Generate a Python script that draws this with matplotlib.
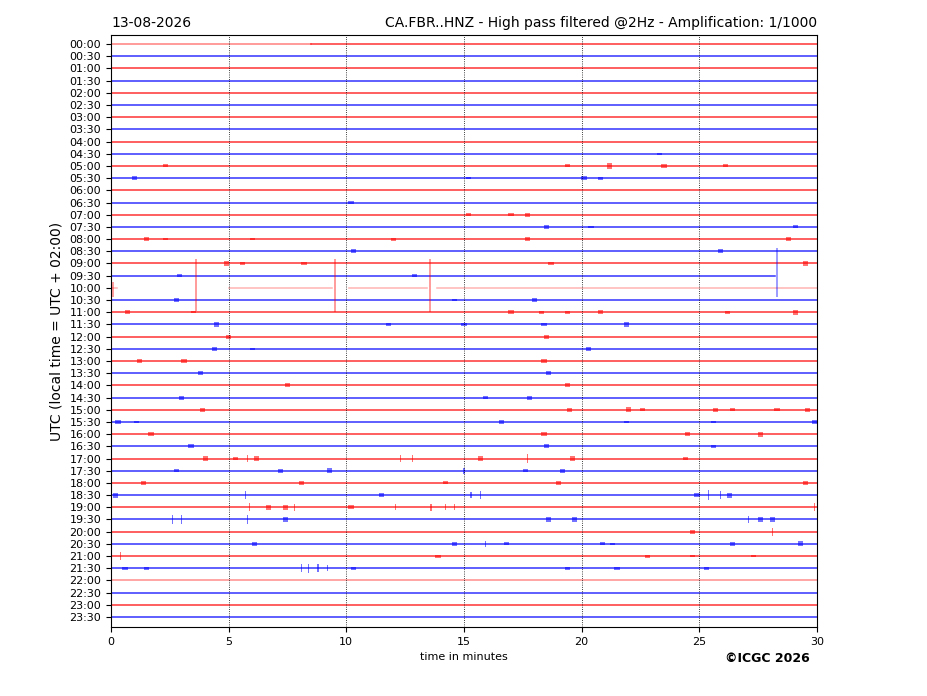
import matplotlib
matplotlib.use('Agg')
import matplotlib.pyplot as plt

# row labels (half hour lines), 00:00 .. 23:30
rows = ['%02d:%02d' % (h, m) for h in range(24) for m in (0, 30)]

# trace segments where data exist (row index, start min, end min, alpha)
seg_row = [0, 0, 19, 20, 20, 20, 20]
seg_start = [0.0, 8.5, 0.0, 0.0, 5.0, 10.1, 13.85]
seg_end = [8.5, 30.0, 28.2, 0.25, 9.4, 13.45, 30.0]
seg_alpha = [0.5, 0.8, 0.8, 0.3, 0.3, 0.3, 0.3]
light_rows = [44]

# small bursts: row index, minute, half amplitude (rows), duration (min)
ev_row = [9, 10, 10, 10, 10, 10, 11, 11, 11, 11, 13, 14, 14, 14, 15, 15, 15,
          16, 16, 16, 16, 16, 16, 17, 17, 18, 18, 18, 18, 18, 19, 19,
          21, 21, 21, 22, 22, 22, 22, 22, 22, 22, 22, 23, 23, 23, 23, 23,
          24, 24, 25, 25, 25, 26, 26, 26, 27, 27, 28, 28, 29, 29, 29,
          30, 30, 30, 30, 30, 30, 30, 30, 31, 31, 31, 31, 31, 31,
          32, 32, 32, 32, 33, 33, 33,
          34, 34, 34, 34, 34, 34, 34, 34, 34, 34,
          35, 35, 35, 35, 35, 35, 36, 36, 36, 36, 36,
          37, 37, 37, 37, 37, 37, 37, 37, 37,
          38, 38, 38, 38, 38, 38, 38, 38, 38, 38,
          39, 39, 39, 39, 39, 39, 39, 39, 39, 40, 40,
          41, 41, 41, 41, 41, 41, 41, 41, 42, 42, 42, 42, 42,
          43, 43, 43, 43, 43, 43, 43, 43, 43, 43]
ev_min = [23.3, 2.3, 19.4, 21.2, 23.5, 26.1, 1.0, 15.2, 20.1, 20.8, 10.2, 15.2, 17.0, 17.7, 18.5, 20.4, 29.1,
          1.5, 2.3, 6.0, 12.0, 17.7, 28.8, 10.3, 25.9, 4.9, 5.6, 8.2, 18.7, 29.5, 2.9, 12.9,
          2.8, 14.6, 18.0, 0.7, 3.5, 17.0, 18.3, 19.4, 20.8, 26.2, 29.1, 4.5, 11.8, 15.0, 18.4, 21.9,
          5.0, 18.5, 4.4, 6.0, 20.3, 1.2, 3.1, 18.4, 3.8, 18.6, 7.5, 19.4, 3.0, 15.9, 17.8,
          3.9, 19.5, 22.0, 22.6, 25.7, 26.4, 28.3, 29.6, 0.3, 1.1, 16.6, 21.9, 25.6, 29.9,
          1.7, 18.4, 24.5, 27.6, 3.4, 18.5, 25.6,
          4.0, 5.3, 5.8, 6.2, 12.3, 12.8, 15.7, 17.7, 19.6, 24.4,
          2.8, 7.2, 9.3, 15.0, 17.6, 19.2, 1.4, 8.1, 14.2, 19.0, 29.5,
          0.2, 5.7, 11.5, 15.3, 15.7, 24.9, 25.4, 25.9, 26.3,
          5.9, 6.7, 7.4, 7.8, 10.2, 12.1, 13.6, 14.2, 14.6, 29.9,
          2.6, 3.0, 5.8, 7.4, 18.6, 19.7, 27.1, 27.6, 28.1, 24.7, 28.1,
          6.1, 14.6, 15.9, 16.8, 20.9, 21.3, 26.4, 29.3, 0.4, 13.9, 22.8, 24.7, 27.3,
          0.6, 1.5, 8.1, 8.4, 8.8, 9.2, 10.3, 19.4, 21.5, 25.3]
ev_amp = [0.12, 0.15, 0.15, 0.25, 0.2, 0.15, 0.2, 0.1, 0.22, 0.15, 0.18, 0.15, 0.15, 0.2, 0.2, 0.12, 0.15,
          0.18, 0.12, 0.12, 0.15, 0.2, 0.2, 0.2, 0.2, 0.2, 0.12, 0.12, 0.18, 0.2, 0.15, 0.12,
          0.18, 0.12, 0.18, 0.2, 0.12, 0.2, 0.15, 0.15, 0.2, 0.15, 0.25, 0.2, 0.12, 0.12, 0.12, 0.2,
          0.2, 0.2, 0.2, 0.12, 0.2, 0.15, 0.2, 0.2, 0.2, 0.2, 0.2, 0.2, 0.2, 0.12, 0.2,
          0.2, 0.2, 0.25, 0.15, 0.2, 0.15, 0.15, 0.2, 0.2, 0.12, 0.2, 0.12, 0.12, 0.2,
          0.2, 0.2, 0.2, 0.25, 0.2, 0.2, 0.12,
          0.2, 0.15, 0.3, 0.2, 0.3, 0.3, 0.2, 0.45, 0.2, 0.15,
          0.15, 0.2, 0.25, 0.3, 0.12, 0.2, 0.2, 0.2, 0.15, 0.2, 0.2,
          0.25, 0.4, 0.2, 0.3, 0.35, 0.2, 0.45, 0.35, 0.25,
          0.4, 0.25, 0.25, 0.35, 0.2, 0.3, 0.35, 0.3, 0.3, 0.4,
          0.45, 0.45, 0.4, 0.2, 0.2, 0.2, 0.35, 0.25, 0.2, 0.2, 0.4,
          0.2, 0.2, 0.3, 0.15, 0.15, 0.12, 0.2, 0.25, 0.4, 0.15, 0.15, 0.12, 0.12,
          0.15, 0.15, 0.4, 0.45, 0.4, 0.3, 0.15, 0.12, 0.12, 0.15]
ev_dur = [0.05 if a > 0.28 else 0.22 for a in ev_amp]

# large transients: row index, minute, extent above, extent below (rows)
big_row = [20, 20, 20, 20, 19]
big_min = [0.1, 3.6, 9.5, 13.55, 28.3]
big_up = [0.5, 2.35, 2.4, 2.35, 2.26]
big_down = [0.75, 1.9, 1.95, 2.0, 1.75]

fig = plt.figure(figsize=(9.27, 6.96), dpi=100)
ax = fig.add_axes([0.1197, 0.0991, 0.7616, 0.8506])

cols = ['red' if i % 2 == 0 else 'blue' for i in range(len(rows))]

for i in range(len(rows)):
    if i in seg_row:
        continue
    a = 0.45 if i in light_rows else 0.8
    ax.plot([0, 30], [-i, -i], color=cols[i], lw=1.1, alpha=a)

for r, s, e, a in zip(seg_row, seg_start, seg_end, seg_alpha):
    ax.plot([s, e], [-r, -r], color=cols[r], lw=1.1, alpha=a)

for r, m, a, d in zip(ev_row, ev_min, ev_amp, ev_dur):
    ax.bar(m, 1.7 * a, bottom=-r - 0.85 * a, width=d, color=cols[r], alpha=0.55, lw=0)

for r, m, up, dn in zip(big_row, big_min, big_up, big_down):
    ax.vlines(m, -r - dn, -r + up, color=cols[r], lw=1.1, alpha=0.5)

for x in range(5, 30, 5):
    ax.axvline(x, color='black', ls=':', lw=0.6)

ax.set_xlim(0, 30)
ax.set_ylim(-47.82, 0.74)
ax.set_xticks(range(0, 31, 5))
ax.set_yticks([-i for i in range(len(rows))])
ax.set_yticklabels(rows)
ax.tick_params(labelsize=8)
ax.set_xlabel('time in minutes', fontsize=8)
ax.set_ylabel('UTC (local time = UTC + 02:00)', fontsize=10)
ax.set_title('13-08-2026', loc='left', fontsize=10)
ax.set_title('CA.FBR..HNZ - High pass filtered @2Hz - Amplification: 1/1000', loc='right', fontsize=10)
fig.text(0.874, 0.049, '\u00a9ICGC 2026', ha='right', fontsize=9, fontweight='bold')

fig.savefig('out.png', dpi=100)
